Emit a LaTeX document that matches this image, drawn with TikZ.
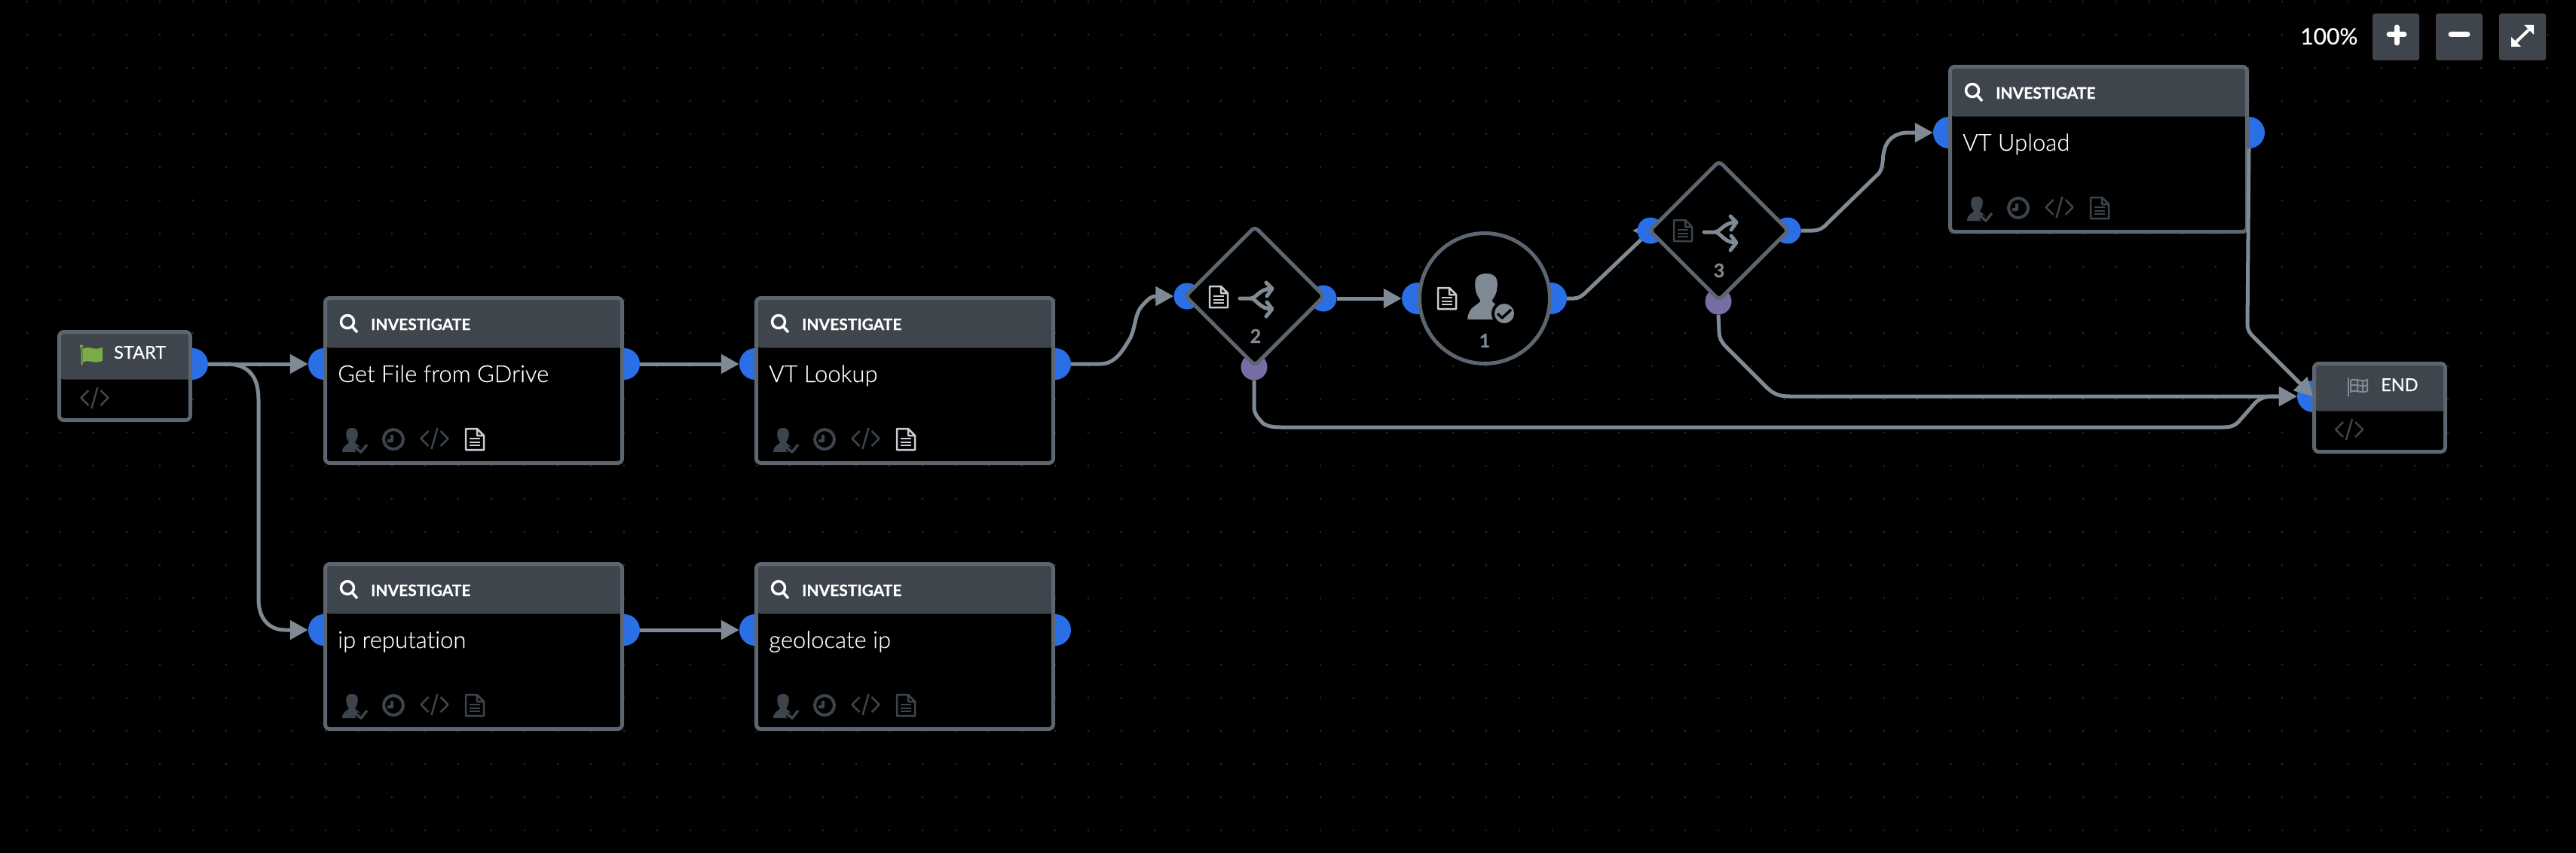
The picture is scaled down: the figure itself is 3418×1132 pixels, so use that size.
\documentclass[tikz,border=0pt]{standalone}
\usepackage{fontspec}
\setmainfont[Ligatures=NoCommon]{Lato}
\newfontfamily\lightfont[Ligatures=NoCommon,FakeBold=0.25]{Lato Light}
\newfontfamily\headfont[Ligatures=NoCommon,FakeBold=0.6]{Lato Bold}
\newfontfamily\medfont[Ligatures=NoCommon,FakeBold=0.4]{Lato}
\usetikzlibrary{arrows.meta,backgrounds,shapes.geometric}
\definecolor{headcol}{HTML}{3F454C}
\definecolor{edgecol}{HTML}{5D6670}
\definecolor{linkcol}{HTML}{808A94}
\definecolor{portblue}{HTML}{2A6FE6}
\definecolor{portpurple}{HTML}{756FA6}
\definecolor{gridcol}{HTML}{222426}
\definecolor{dimcol}{HTML}{3D444C}
\definecolor{pagecol}{HTML}{C9CDD1}
\definecolor{flagcol}{HTML}{7AAB45}
\tikzset{
  port/.style={circle, fill=portblue, inner sep=0pt, minimum size=42pt},
  smallport/.style={circle, fill=#1, inner sep=0pt, minimum size=35pt},
  box/.style={draw=edgecol, fill=black, line width=5pt, rounded corners=6pt, anchor=north west, inner sep=0pt, minimum width=394pt, minimum height=219pt,
    path picture={\fill[headcol] (path picture bounding box.north west) rectangle ++(400,#1);}},
  box/.default=66,
  endbox/.style={box=#1, minimum width=174pt, minimum height=117pt},
  link/.style={draw=linkcol, line width=5pt, rounded corners=0pt},
  txt/.style={inner sep=0pt, anchor=base west, text=white},
  num/.style={inner sep=0pt, anchor=base, text=linkcol, font=\headfont\fontsize{25}{30}\selectfont},
  zoombtn/.style={fill=headcol, rounded corners=3pt, minimum size=62pt, inner sep=0pt},
  docicon/.pic={
    \draw[pic actions, line width=2.5pt, line join=round] (0,0)--(15,0)--(24,9)--(24,28)--(0,28)--cycle (15,0)--(15,9)--(24,9);
    \draw[pic actions, line width=2pt] (5,13)--(19,13) (5,17.5)--(19,17.5) (5,22)--(19,22);},
  codeicon/.pic={
    \draw[dimcol, line width=2.5pt] (-8,-10)--(-18,0)--(-8,10) (8,-10)--(18,0)--(8,10) (4,-14)--(-4,14);},
  figicon/.pic={
    \fill[pic actions] (0,0) .. controls (-9,0) and (-8,7) .. (-7.5,11) .. controls (-7,15) and (-5,17) .. (-4,19) .. controls (-5,22) and (-13,23) .. (-13,32) -- (13,32) .. controls (13,23) and (5,22) .. (4,19) .. controls (5,17) and (7,15) .. (7.5,11) .. controls (8,7) and (9,0) .. (0,0) -- cycle;},
  spliticon/.pic={
    \draw[linkcol, line width=5pt, line cap=round, line join=round] (-20,0)--(-6,0) .. controls (2,0) and (6,-13) .. (22,-13) (-6,0) .. controls (2,0) and (6,14) .. (22,14)
      (15,-21)--(23,-13)--(16,-3) (16,5)--(23,14)--(15,24);},
  lensicon/.pic={
    \draw[white, line width=3.5pt] (9,9) circle (8.5) (15,15)--(22,23);}
}
\newcommand{\invbox}[5]{% name, left, top, label, colour of the page icon
\node[port] (#1in) at (#2+1,#3+90) {};
\node[port] (#1out) at (#2+399,#3+90) {};
\node[box] (#1) at (#2,#3) {};
\pic at (#2+23,#3+25) {lensicon};
\node[txt] (#1head) at (#2+63,#3+45) {\headfont\fontsize{21}{25}\selectfont INVESTIGATE};
\node[txt] (#1lbl) at (#2+19,#3+114) {\lightfont\fontsize{31}{36}\selectfont #4};
\pic[fill=dimcol] at (#2+38,#3+175) {figicon};
\draw[black, line width=7pt] (#2+44,#3+202)--(#2+50,#3+207)--(#2+58,#3+197);
\draw[dimcol, line width=3.5pt] (#2+44,#3+202)--(#2+50,#3+207)--(#2+58,#3+197);
\draw[dimcol, line width=4pt] (#2+93,#3+190) circle (13) (#2+91,#3+184)--(#2+91,#3+192)--(#2+85,#3+192);
\pic at (#2+147.5,#3+189) {codeicon};
\pic[draw=#5] at (#2+189,#3+176) {docicon};
}
\begin{document}
\begin{tikzpicture}[x=1pt, y=-1pt, >={Triangle[length=24pt,width=25pt]}, line join=round]
\useasboundingbox (0,0) rectangle (3418,1132);
\begin{scope}[on background layer]
\fill[black] (0,0) rectangle (3418,1132);
\foreach \i in {36,80,...,3418} \foreach \j in {2,46,...,1132} \fill[gridcol] (\i,\j) circle (1.6);
\end{scope}

\node[port] (stout) at (255,483) {};
\node[box=63, endbox=63] (st) at (76,438) {};
\node[txt] (sthead) at (151,476) {\medfont\fontsize{23.5}{28}\selectfont START};
\fill[flagcol] (110,463) .. controls (118,458) and (124,466) .. (136,461) -- (136,479) .. controls (124,484) and (118,476) .. (110,481) -- cycle;
\fill[flagcol] (108,460) circle (2.5) (107.5,460) rectangle (109.5,484);
\pic at (125.5,528) {codeicon};

\invbox{gd}{429}{393}{Get File from GDrive}{pagecol}
\invbox{vl}{1001}{393}{VT Lookup}{pagecol}
\invbox{ip}{429}{746}{ip reputation}{dimcol}
\invbox{geo}{1001}{746}{geolocate ip}{dimcol}
\invbox{up}{2585}{86}{VT Upload}{dimcol}

\node[smallport=portblue] (dtwoin) at (1575,393) {};
\node[smallport=portblue] (dtwoout) at (1756,396) {};
\node[smallport=portpurple] (dtwono) at (1664,487) {};
\node[diamond, draw=edgecol, fill=black, line width=5pt, rounded corners=6pt, aspect=1, inner sep=0pt, minimum size=186pt] (dtwo) at (1665,393) {};
\pic[draw=pagecol] at (1605,380) {docicon};
\pic at (1665,396) {spliticon};
\node[num] (dtwonum) at (1666,455) {2};

\node[port] (usrin) at (1881,396) {};
\node[port] (usrout) at (2058,396) {};
\node[circle, draw=edgecol, fill=black, line width=5pt, inner sep=0pt, minimum size=173pt] (usr) at (1970,396) {};
\pic[draw=pagecol] at (1908,382) {docicon};
\pic[fill=linkcol, scale=1.9] at (1972,363) {figicon};
\fill[black] (1996,416) circle (17);
\fill[linkcol] (1996,416) circle (13);
\draw[black, line width=3.5pt] (1987,416)--(1993,422)--(2005,411);
\node[num] (usrnum) at (1970,461) {1};

\begin{scope}[on background layer]
\coordinate (dthreetip) at (2166,306);
\fill[linkcol] (dthreetip)--(2190,294)--(2190,318)--cycle;
\end{scope}
\node[smallport=portblue] (dthreein) at (2190,306) {};
\node[smallport=portblue] (dthreeout) at (2372,306) {};
\node[smallport=portpurple] (dthreeno) at (2280,400) {};
\node[diamond, draw=edgecol, fill=black, line width=5pt, rounded corners=6pt, aspect=1, inner sep=0pt, minimum size=186pt] (dthree) at (2281,306) {};
\pic[draw=dimcol] at (2221,292) {docicon};
\pic at (2281,308) {spliticon};
\node[num] (dthreenum) at (2281,368) {3};

\node[port] (endin) at (3069,526) {};
\node[box=63, endbox=63] (endbox) at (3068,480) {};
\node[txt] (endhead) at (3159,519) {\medfont\fontsize{23.5}{28}\selectfont END};
\draw[linkcol, line width=2pt] (3116,501)--(3116,526);
\draw[linkcol, line width=2pt] (3119,505) .. controls (3126,501) and (3133,508) .. (3141,504) -- (3141,519) .. controls (3133,523) and (3126,516) .. (3119,520) -- cycle (3119,512) .. controls (3126,508) and (3133,515) .. (3141,511) (3128,505)--(3128,519) (3135,505)--(3135,519);
\pic at (3117,570) {codeicon};

\node[txt] (zoomval) at (3052,59) {\medfont\fontsize{30}{36}\selectfont 100\%};
\node[zoombtn] (zoomin) at (3179,49) {};
\node[zoombtn] (zoomout) at (3263,49) {};
\node[zoombtn] (zoomfit) at (3347,49) {};
\draw[white, line width=7pt, line cap=round] (3170,46)--(3190,46) (3180,36)--(3180,57);
\draw[white, line width=7pt, line cap=round] (3252,46)--(3274,46);
\draw[white, line width=4pt] (3336,58)--(3358,37);
\fill[white] (3332,62)--(3332,49)--(3345,62)--cycle (3362,33)--(3349,33)--(3362,46)--cycle;

\draw[->, link] (stout.east)--(gdin.west);
\draw[->, link] (stout.east)--(300,483) .. controls (330,483) and (343,500) .. (343,530)--(343,795) .. controls (343,822) and (358,836) .. (378,836)--(ipin.west);
\draw[->, link] (gdout.east)--(vlin.west);
\draw[->, link] (ipout.east)--(geoin.west);
\draw[->, link] (vlout.east)--(1460,483) .. controls (1480,483) and (1490,465) .. (1500,448) .. controls (1508,430) and (1505,415) .. (1518,403) .. controls (1524,396) and (1528,393) .. (1535,393)--(dtwoin.west);
\draw[->, link] (dtwoout.east)--(usrin.west);
\begin{scope}[on background layer]
\draw[link] (usrout.east)--(2088,396) .. controls (2095,396) and (2098,393) .. (2103,389)--(dthreein.center);
\end{scope}
\draw[->, link] (dthreeout.east)--(2405,306) .. controls (2414,306) and (2420,302) .. (2425,296)--(2493,230) .. controls (2500,220) and (2497,210) .. (2500,200) .. controls (2503,185) and (2515,176) .. (2532,176)--(upin.west);
\draw[->, link] (upout.south)--(2982,430) .. controls (2982,438) and (2985,442) .. (2990,447)--(endin.center);
\draw[->, link] (dthreeno.south)--(2281,440) .. controls (2281,450) and (2286,456) .. (2292,462)--(2345,515) .. controls (2355,524) and (2362,526) .. (2375,526)--(endin.west);
\draw[->, link] (dtwono.south)--(1664,540) .. controls (1664,550) and (1670,555) .. (1676,562) .. controls (1682,566) and (1690,567) .. (1700,567)--(2950,567) .. controls (2960,567) and (2965,565) .. (2970,560)--(2992,535) .. controls (2998,529) and (3005,526) .. (3015,526)--(endin.west);
\end{tikzpicture}
\end{document}
